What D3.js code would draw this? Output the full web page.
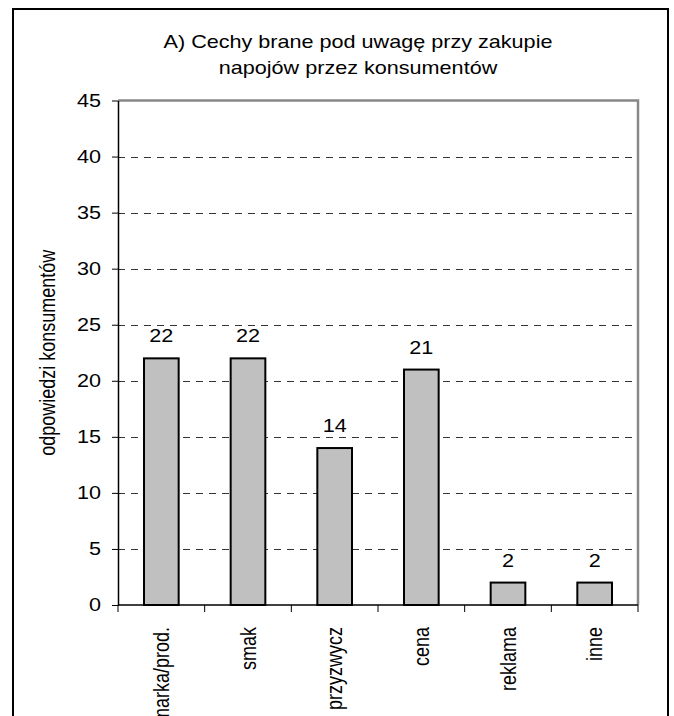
<!DOCTYPE html>
<html lang="pl">
<head>
    <meta charset="utf-8">
    <title>Cechy napojów</title>
    <script src="https://cdn.jsdelivr.net/npm/d3@7"></script>
    <style>
        body { margin: 0; background: #fff; }
        text { font-family: "Liberation Sans", Arial, sans-serif; fill: #000; }
    </style>
</head>
<body>
    <script type="text/javascript">
        // dane z wykresu
        var categories = ['marka/prod.', 'smak', 'przyzwycz', 'cena', 'reklama', 'inne'];
        var values = [22, 22, 14, 21, 2, 2];
        var yTicks = [0, 5, 10, 15, 20, 25, 30, 35, 40, 45];
        var titleLines = ['A) Cechy brane pod uwagę przy zakupie', 'napojów przez konsumentów'];
        var yLabel = 'odpowiedzi konsumentów';

        var svgWidth = 674, svgHeight = 716;
        var plotLeft = 118, plotRight = 638, plotTop = 100.5, plotBottom = 605;
        var sx = 1.2;   // tekst w oryginale jest lekko rozciągnięty w poziomie
        var fs = 18;

        var svg = d3.select('body').append('svg')
            .attr('width', svgWidth)
            .attr('height', svgHeight);

        // ramka zewnętrzna
        svg.append('rect')
            .attr('x', 13).attr('y', 9)
            .attr('width', 655).attr('height', 740)
            .attr('fill', 'none')
            .attr('stroke', '#000')
            .attr('stroke-width', 2);

        var xScale = d3.scaleBand()
            .domain(categories)
            .range([plotLeft, plotRight])
            .paddingInner(0.6)
            .paddingOuter(0.3);
        var yScale = d3.scaleLinear()
            .domain([0, 45])
            .range([plotBottom, plotTop]);

        // linie siatki
        svg.append('g').selectAll('line')
            .data(yTicks.filter(function (d) { return d > 0 && d < 45; }))
            .enter().append('line')
            .attr('x1', plotLeft).attr('x2', plotRight)
            .attr('y1', function (d) { return Math.round(yScale(d)) + 0.5; })
            .attr('y2', function (d) { return Math.round(yScale(d)) + 0.5; })
            .attr('stroke', '#333')
            .attr('stroke-width', 1)
            .attr('stroke-dasharray', '7,6');

        // obramowanie górne i prawe
        svg.append('path')
            .attr('d', 'M' + plotLeft + ',' + plotTop + 'H' + plotRight + 'V' + plotBottom)
            .attr('fill', 'none')
            .attr('stroke', '#888')
            .attr('stroke-width', 2.5);

        // słupki
        svg.append('g').selectAll('rect')
            .data(values)
            .enter().append('rect')
            .attr('x', function (d, i) { return xScale(categories[i]); })
            .attr('y', function (d) { return yScale(d); })
            .attr('width', xScale.bandwidth())
            .attr('height', function (d) { return yScale(0) - yScale(d); })
            .attr('fill', '#c0c0c0')
            .attr('stroke', '#000')
            .attr('stroke-width', 2);

        // etykiety wartości
        svg.append('g').selectAll('text')
            .data(values)
            .enter().append('text')
            .attr('transform', function (d, i) {
                return 'translate(' + (xScale(categories[i]) + xScale.bandwidth() / 2) + ',' + (yScale(d) - 16) + ') scale(' + sx + ',1)';
            })
            .attr('text-anchor', 'middle')
            .attr('font-size', fs)
            .text(function (d) { return d; });

        // oś Y
        var yAxis = d3.axisLeft(yScale).tickValues(yTicks).tickSize(6).tickSizeOuter(0);
        var gy = svg.append('g')
            .attr('transform', 'translate(' + plotLeft + ',0)')
            .call(yAxis);
        gy.select('.domain').attr('stroke', '#000').attr('stroke-width', 1.5);
        gy.selectAll('.tick line').attr('stroke', '#000');
        gy.selectAll('.tick text')
            .attr('x', null)
            .attr('transform', 'translate(-17,0) scale(' + sx + ',1)')
            .attr('font-size', fs)
            .attr('font-family', '"Liberation Sans", Arial, sans-serif')
            .attr('fill', '#000');

        // oś X
        svg.append('line')
            .attr('x1', plotLeft).attr('x2', plotRight)
            .attr('y1', plotBottom).attr('y2', plotBottom)
            .attr('stroke', '#000').attr('stroke-width', 1.5);
        var step = xScale.step();
        svg.append('g').selectAll('line')
            .data(d3.range(categories.length + 1))
            .enter().append('line')
            .attr('x1', function (d) { return plotLeft + d * step; })
            .attr('x2', function (d) { return plotLeft + d * step; })
            .attr('y1', plotBottom).attr('y2', plotBottom + 7)
            .attr('stroke', '#000');

        svg.append('g').selectAll('text')
            .data(categories)
            .enter().append('text')
            .attr('transform', function (d) {
                return 'translate(' + (xScale(d) + xScale.bandwidth() / 2) + ',' + (plotBottom + 22) + ') rotate(-90) scale(1,' + sx + ')';
            })
            .attr('text-anchor', 'end')
            .attr('dy', '0.35em')
            .attr('font-size', fs)
            .text(function (d) { return d; });

        // tytuł osi Y
        svg.append('text')
            .attr('transform', 'translate(47,' + ((plotTop + plotBottom) / 2) + ') rotate(-90) scale(1,' + sx + ')')
            .attr('text-anchor', 'middle')
            .attr('dy', '0.35em')
            .attr('font-size', fs)
            .text(yLabel);

        // tytuł
        svg.append('g').selectAll('text')
            .data(titleLines)
            .enter().append('text')
            .attr('transform', function (d, i) {
                return 'translate(358,' + (48 + i * 26) + ') scale(' + sx + ',1)';
            })
            .attr('text-anchor', 'middle')
            .attr('font-size', fs)
            .text(function (d) { return d; });
    </script>
</body>
</html>
